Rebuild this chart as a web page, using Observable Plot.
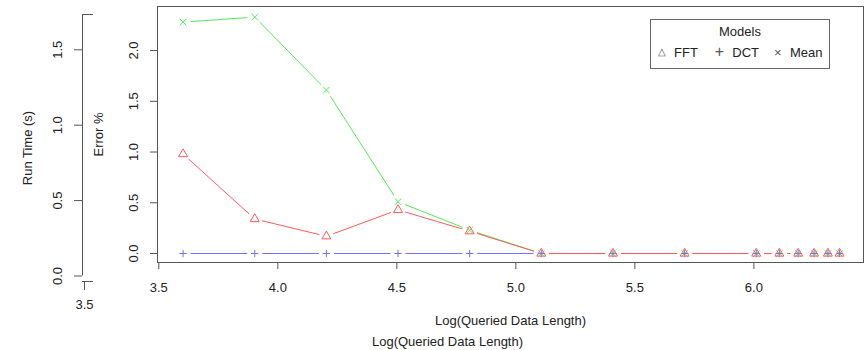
<!DOCTYPE html>
<html><head><meta charset="utf-8">
<script src="https://cdn.jsdelivr.net/npm/d3@7"></script>
<script src="https://cdn.jsdelivr.net/npm/@observablehq/plot@0.6"></script>
<style>
html,body{margin:0;padding:0;background:#fff;}
#chart{position:relative;width:865px;height:350px;font-family:"Liberation Sans",Arial,sans-serif;}
#chart svg{position:absolute;left:0;top:0;}
#legend{position:absolute;left:650px;top:19px;width:178px;height:48px;border:1px solid #666;background:#fff;color:#222;font-size:13px;}
#legend span{position:absolute;white-space:nowrap;line-height:1;}
</style></head><body><div id="chart"></div>
<script>
// ---- data ----
const logLength = [3.602, 3.903, 4.204, 4.505, 4.806, 5.107, 5.408, 5.709, 6.010, 6.107, 6.186, 6.253, 6.311, 6.360];
const fftError  = [0.98, 0.34, 0.17, 0.43, 0.22, 0, 0, 0, 0, 0, 0, 0, 0, 0];
const dctError  = [0, 0, 0, 0, 0, 0, 0, 0, 0, 0, 0, 0, 0, 0];
const meanError = [2.28, 2.33, 1.61, 0.51, 0.23, 0, 0, 0, 0, 0, 0, 0, 0, 0];
const modelNames = ["FFT", "DCT", "Mean"];
const xTicks = [3.5, 4.0, 4.5, 5.0, 5.5, 6.0];
const errorTicks = [0, 0.5, 1.0, 1.5, 2.0];
const runTimeTicks = [0, 0.5, 1.0, 1.5];
const outerXTicks = [3.5];
const xLabel = "Log(Queried Data Length)";
const errorLabel = "Error %";
const runTimeLabel = "Run Time (s)";

// ---- styling ----
const colors = {FFT: "#ff5a5a", DCT: "#7272ff", Mean: "#55ea55"};
const symbols = {FFT: "triangle", DCT: "plus", Mean: "times"};
const symbolR = {FFT: 3.35, DCT: 2.5, Mean: 3.1};
const font = '"Liberation Sans", Arial, sans-serif';
const txt = "#222";
const baseStyle = `background: transparent; color: #555; font-family: ${font}; font-size: 13px; overflow: visible;`;
const fmt1 = d => d.toFixed(1);
const T = {fill: txt, fontSize: 13, textAnchor: "middle", lineAnchor: "middle"};

const seriesVals = {FFT: fftError, DCT: dctError, Mean: meanError};
const rows = [];
for (const m of modelNames) logLength.forEach((x, i) => rows.push({model: m, x, y: seriesVals[m][i]}));
const drawOrder = ["Mean", "DCT", "FFT"];

// ---- outer (Run Time) axis ----
const outerXDomain = [3.4916, 3.5378];
const runDomain = [-0.0365, 1.734];
const outer = Plot.plot({
  width: 865, height: 350,
  marginLeft: 82, marginRight: 772, marginTop: 14, marginBottom: 69,
  style: baseStyle,
  x: {domain: outerXDomain, ticks: outerXTicks, tickSize: 9, tickFormat: () => "", label: null},
  y: {domain: runDomain, ticks: runTimeTicks, tickSize: 8, tickFormat: () => "", label: null},
  marks: [
    Plot.ruleX([outerXDomain[0]], {y1: 0, y2: runDomain[1], stroke: "#555"}),
    Plot.ruleY([runDomain[1]], {x1: outerXDomain[0], x2: outerXDomain[1], stroke: "#555"}),
    Plot.ruleY([runDomain[0]], {x1: outerXDomain[0], x2: outerXDomain[1], stroke: "#555"}),
    Plot.text(runTimeTicks, {...T, y: d => d, text: fmt1, frameAnchor: "left", dx: -25, rotate: -90}),
    Plot.text(outerXTicks, {...T, x: d => d, text: fmt1, frameAnchor: "bottom", dy: 23}),
    Plot.text([runTimeLabel], {...T, text: d => d, frameAnchor: "left", dx: -55, rotate: -90}),
    Plot.text([xLabel], {...T, text: d => d, frameAnchor: "bottom", dx: 359.5, dy: 60})
  ]
});

// ---- inner (Error %) plot ----
const inner = Plot.plot({
  width: 865, height: 350,
  marginLeft: 157, marginRight: 2, marginTop: 6, marginBottom: 88,
  style: baseStyle,
  x: {domain: [3.4945, 6.4605], ticks: xTicks, tickSize: 7, tickFormat: () => "", label: null},
  y: {domain: [-0.0886, 2.434], ticks: errorTicks, tickSize: 7, tickFormat: () => "", label: null},
  marks: [
    Plot.frame({stroke: "#555"}),
    Plot.text(xTicks, {...T, x: d => d, text: fmt1, frameAnchor: "bottom", dy: 25}),
    Plot.text(errorTicks, {...T, y: d => d, text: fmt1, frameAnchor: "left", dx: -24, rotate: -90}),
    Plot.text([xLabel], {...T, text: d => d, frameAnchor: "bottom", dy: 58}),
    Plot.text([errorLabel], {...T, text: d => d, frameAnchor: "left", dx: -59, rotate: -90}),
    ...drawOrder.map(m => Plot.line(rows.filter(r => r.model === m), {x: "x", y: "y", stroke: colors[m], strokeWidth: 1})),
    Plot.dot(rows, {x: "x", y: "y", r: 7.5, fill: "white", stroke: null}),
    ...drawOrder.map(m => Plot.dot(rows.filter(r => r.model === m), {
      x: "x", y: "y", symbol: symbols[m], r: symbolR[m], fill: "none", stroke: colors[m], strokeWidth: 1
    }))
  ]
});

const chart = document.getElementById("chart");
chart.appendChild(outer);
chart.appendChild(inner);

// ---- legend ----
const legend = document.createElement("div");
legend.id = "legend";
const legendItems = [
  {glyph: "\u25B3", gsize: 10, gx: 4.7, label: modelNames[0], lx: 23},
  {glyph: "+", gsize: 16, gx: 62.3, label: modelNames[1], lx: 81.3},
  {glyph: "\u00D7", gsize: 13, gx: 120.7, label: modelNames[2], lx: 139}
];
let html = `<span style="left:0;width:100%;text-align:center;top:5.3px;">Models</span>`;
for (const it of legendItems) {
  html += `<span style="left:${it.gx}px;width:12px;text-align:center;top:${32.3 - it.gsize * 0.49}px;font-size:${it.gsize}px;color:#555;">${it.glyph}</span>`;
  html += `<span style="left:${it.lx}px;top:26px;">${it.label}</span>`;
}
legend.innerHTML = html;
chart.appendChild(legend);
</script>
</body></html>
